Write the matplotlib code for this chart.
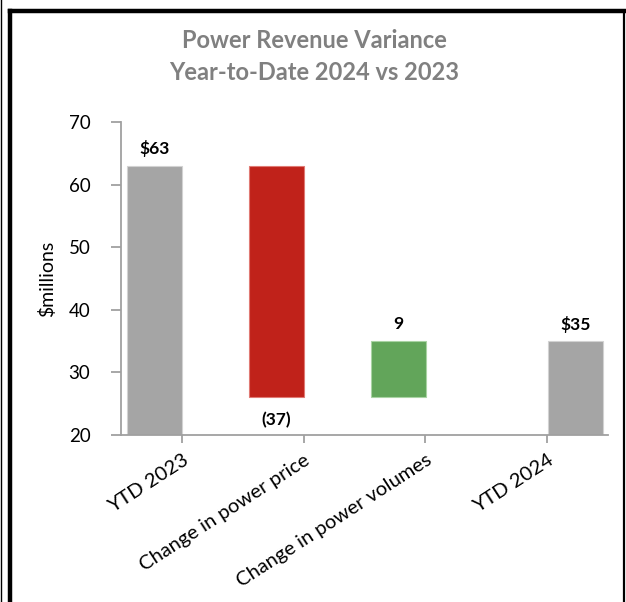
import numpy as np
import matplotlib
matplotlib.use('Agg')
import matplotlib.pyplot as plt
from matplotlib.lines import Line2D

plt.rcParams['font.family'] = ['Lato', 'DejaVu Sans']

categories = ['YTD 2023', 'Change in power price', 'Change in power volumes', 'YTD 2024']
changes = [63, -37, 9, 35]
labels = ['$63', '(37)', '9', '$35']
colors = ['#A5A5A5', '#C0221A', '#62A55A', '#A5A5A5']
edges = ['#D2D2D2', '#E07A74', '#A9D3A3', '#D2D2D2']

W, H = 626, 602
fig = plt.figure(figsize=(W / 100, H / 100), dpi=100)

# axes position from pixel box
x0, x1, ytop, ybot = 121, 608, 122, 435
ax = fig.add_axes([x0 / W, 1 - ybot / H, (x1 - x0) / W, (ybot - ytop) / H])

# waterfall bottoms / tops
start = changes[0]
after_price = start + changes[1]
after_vol = after_price + changes[2]
bottoms = [0, after_price, after_price, 0]
heights = [start, start - after_price, after_vol - after_price, changes[3]]

x = np.arange(len(categories))
bw = 0.455
lefts = [x[0] - 0.45, x[1] - 0.45, x[2] - 0.45, x[3] + 0.005]
for i in range(len(categories)):
    ax.bar(lefts[i], heights[i], bottom=bottoms[i], width=bw, align='edge',
           color=colors[i], edgecolor=edges[i], linewidth=0.8, zorder=2)

# value labels
lab_y = [start + 2.7, after_price - 3.7, after_vol + 2.8, changes[3] + 2.6]
for i in range(len(categories)):
    ax.text(lefts[i] + bw / 2, lab_y[i], labels[i], ha='center', va='center',
            fontsize=12.5, fontweight='bold', color='black')

ax.set_xlim(-0.5, 3.5)
ax.set_ylim(20, 70)
ax.set_yticks([20, 30, 40, 50, 60, 70])
ax.set_xticks(x)
ax.set_xticklabels(categories, rotation=33, ha='right', va='top',
                   rotation_mode='anchor', fontsize=14.5)

for s in ['top', 'right']:
    ax.spines[s].set_visible(False)
for s in ['left', 'bottom']:
    ax.spines[s].set_color('#A0A0A0')
    ax.spines[s].set_linewidth(1.3)
ax.tick_params(axis='y', length=7, width=1.3, color='#A0A0A0', pad=15, labelsize=13.5)
ax.tick_params(axis='x', length=6, width=1.3, color='#A0A0A0', pad=6)
ax.set_ylabel('$millions', fontsize=14, labelpad=9)

fig.text(314 / W, 1 - 40 / H, 'Power Revenue Variance', ha='center', va='center',
         fontsize=17, fontweight='bold', color='#808080')
fig.text(314 / W, 1 - 72 / H, 'Year-to-Date 2024 vs 2023', ha='center', va='center',
         fontsize=17, fontweight='bold', color='#808080')

# frame lines
def px_line(xs, ys, lw):
    fig.add_artist(Line2D([v / W for v in xs], [1 - v / H for v in ys],
                          transform=fig.transFigure, color='black', linewidth=lw,
                          solid_capstyle='projecting'))

px_line([1, 1], [0, H], 1.0)
px_line([10, 10], [10.5, H + 5], 3.2)
px_line([10, 624], [10.5, 10.5], 3.2)
px_line([624, 624], [10.5, H + 5], 1.6)

fig.savefig('out.png', dpi=100)
